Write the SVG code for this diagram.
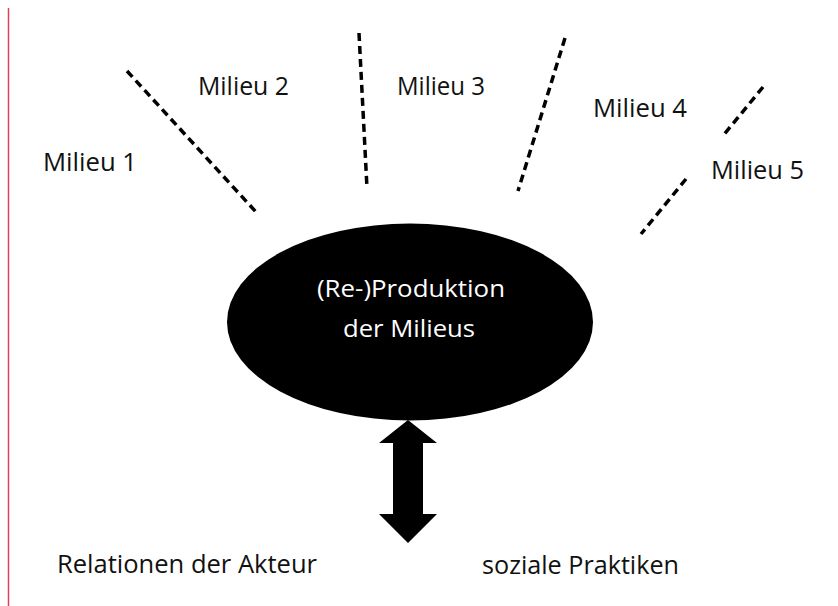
<svg xmlns="http://www.w3.org/2000/svg" width="838" height="606" viewBox="0 0 838 606">
  <style>
    .lbl { font-family: "Open Sans", "Noto Sans", "Liberation Sans", sans-serif; font-size: 25px; fill: #111; }
    .inner { font-family: "Open Sans", "Noto Sans", "Liberation Sans", sans-serif; font-size: 24px; fill: #fff; text-anchor: middle; }
    .dash { stroke: #000; stroke-width: 3.5; stroke-dasharray: 8 5; fill: none; }
  </style>
  <rect width="838" height="606" fill="#fff"/>
  <!-- page margin rule -->
  <line x1="8.5" y1="8" x2="8.5" y2="606" stroke="#e0405a" stroke-width="1.5"/>

  <g id="connectors">
    <line class="dash" x1="127" y1="71" x2="256" y2="212"/>
    <line class="dash" x1="359" y1="33" x2="367" y2="188"/>
    <line class="dash" x1="565" y1="38" x2="518" y2="191"/>
    <line class="dash" x1="763" y1="87" x2="722" y2="137"/>
    <line class="dash" x1="686" y1="179" x2="641" y2="234"/>
    <!-- double-headed block arrow -->
    <path d="M408 420 L437 443 L423 443 L423 514 L437 514 L408 543 L379 514 L393 514 L393 443 L379 443 Z" fill="#000"/>
  </g>

  <g id="milieu1"><text class="lbl" x="43" y="171" textLength="94" lengthAdjust="spacingAndGlyphs">Milieu 1</text></g>
  <g id="milieu2"><text class="lbl" x="198" y="95" textLength="91" lengthAdjust="spacingAndGlyphs">Milieu 2</text></g>
  <g id="milieu3"><text class="lbl" x="397" y="95" textLength="88" lengthAdjust="spacingAndGlyphs">Milieu 3</text></g>
  <g id="milieu4"><text class="lbl" x="593" y="117" textLength="94" lengthAdjust="spacingAndGlyphs">Milieu 4</text></g>
  <g id="milieu5"><text class="lbl" x="711" y="179" textLength="93" lengthAdjust="spacingAndGlyphs">Milieu 5</text></g>

  <g id="core">
    <ellipse cx="410" cy="322" rx="183" ry="98.5" fill="#000"/>
    <text class="inner" x="411" y="297" textLength="188" lengthAdjust="spacingAndGlyphs">(Re-)Produktion</text>
    <text class="inner" x="409" y="337" textLength="132" lengthAdjust="spacingAndGlyphs">der Milieus</text>
  </g>

  <g id="relationen"><text class="lbl" x="57" y="573" font-size="24" textLength="260" lengthAdjust="spacingAndGlyphs">Relationen der Akteur</text></g>
  <g id="praktiken"><text class="lbl" x="482" y="574" font-size="24" textLength="197" lengthAdjust="spacingAndGlyphs">soziale Praktiken</text></g>
</svg>
